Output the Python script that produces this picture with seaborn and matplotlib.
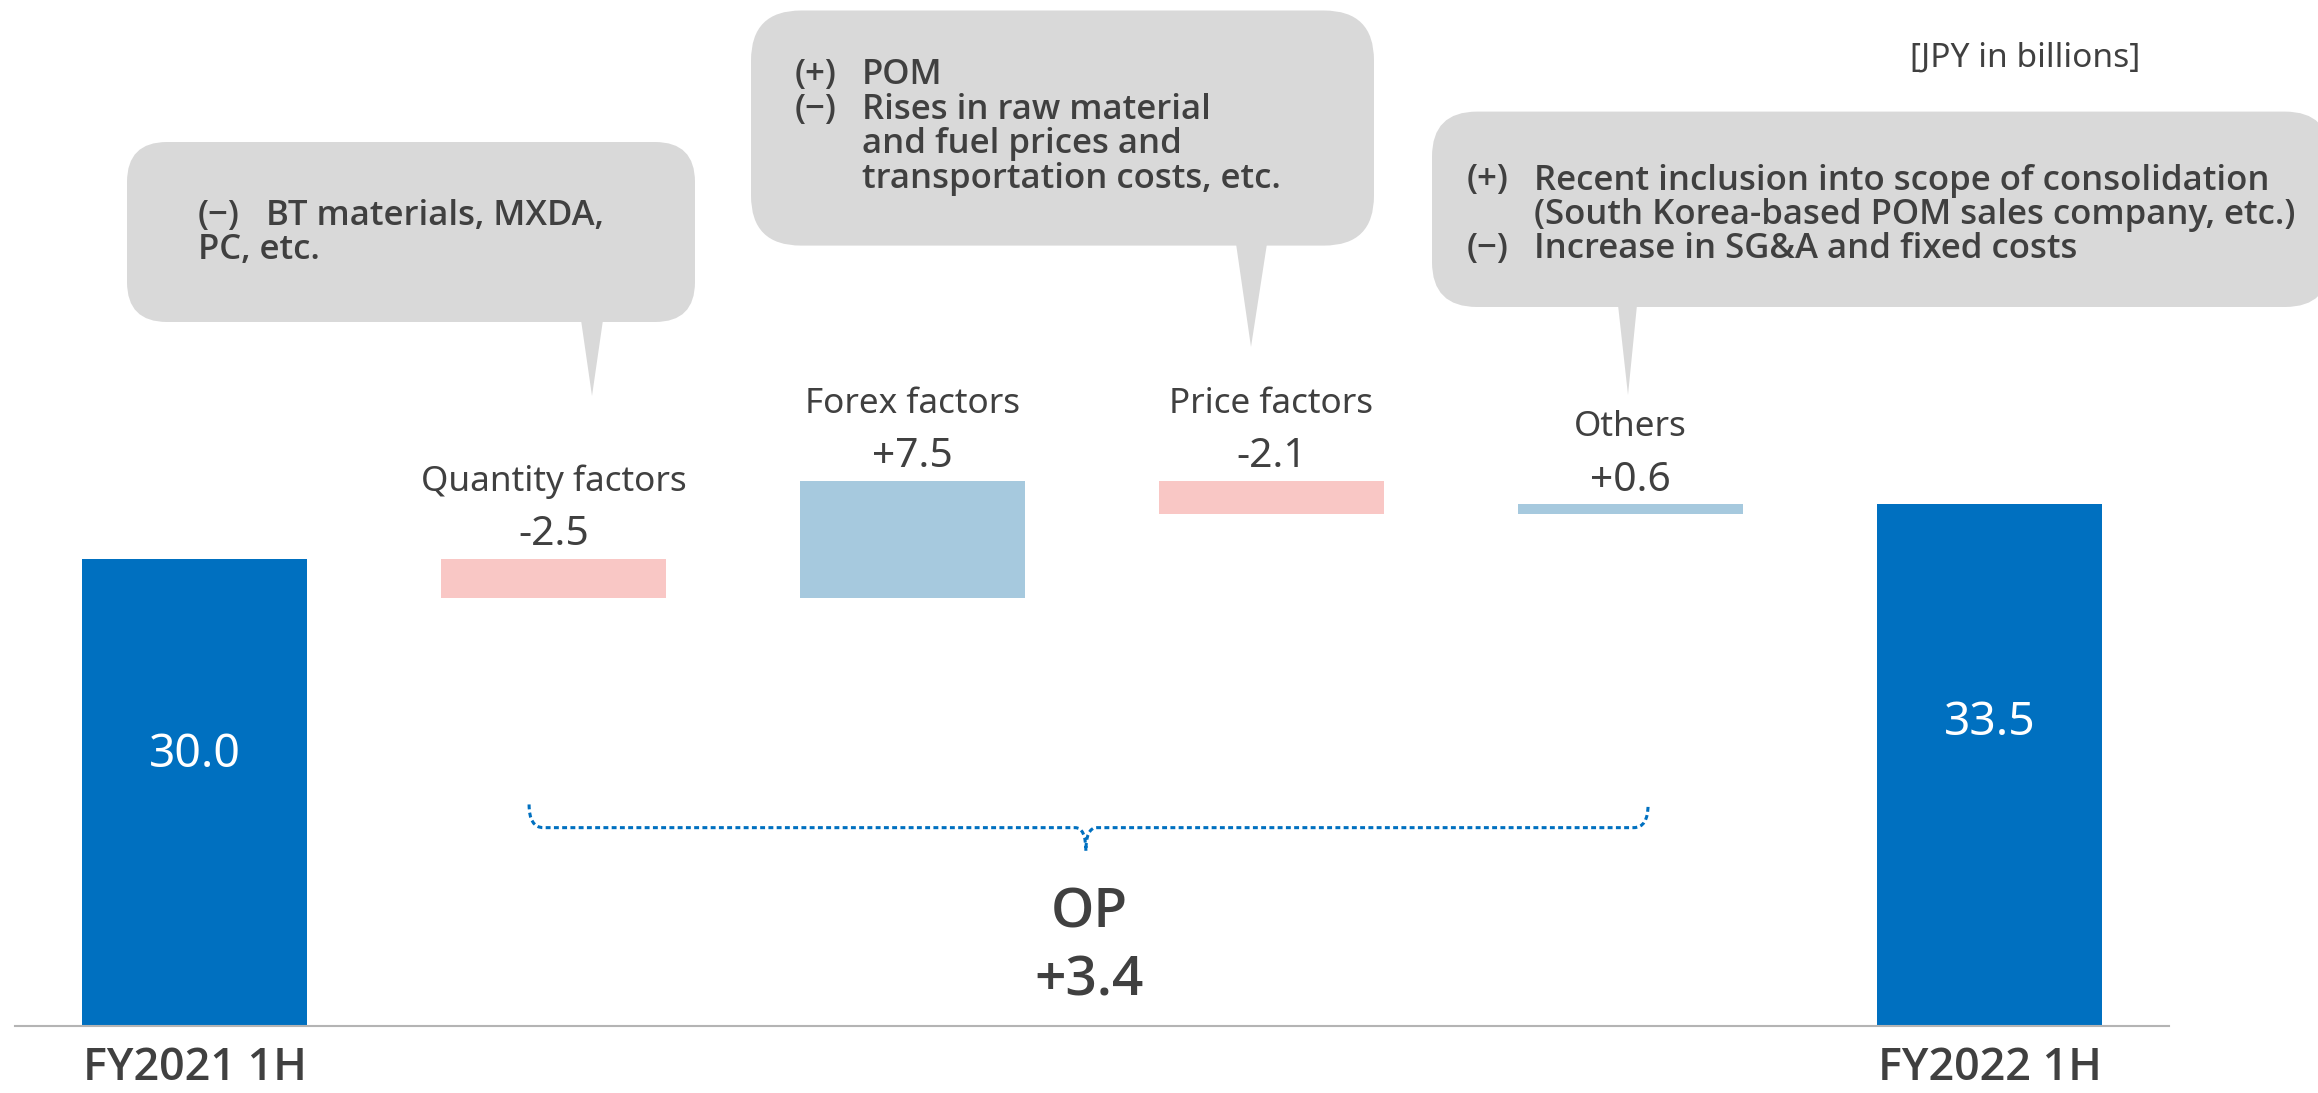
import numpy as np
import pandas as pd
import matplotlib
matplotlib.use("Agg")
import matplotlib.pyplot as plt
import matplotlib.font_manager as fm
import seaborn as sns
from matplotlib.patches import FancyBboxPatch, Polygon, PathPatch
from matplotlib.path import Path
from matplotlib.transforms import Affine2D

# ---------------- data ----------------
categories = ["FY2021 1H", "Quantity factors", "Forex factors", "Price factors", "Others", "FY2022 1H"]
start_value = 30.0
end_value = 33.5
changes = [-2.5, 7.5, -2.1, 0.6]
change_labels = ["-2.5", "+7.5", "-2.1", "+0.6"]
total_labels = ["30.0", "33.5"]
op_title = "OP"
op_change = "+3.4"
unit_label = "[JPY in billions]"

bubble1_lines = [("(−)", "BT materials, MXDA,"), ("", "PC, etc.")]
bubble2_lines = [("(+)", "POM"), ("(−)", "Rises in raw material"),
                 ("", "and fuel prices and"), ("", "transportation costs, etc.")]
bubble3_lines = [("(+)", "Recent inclusion into scope of consolidation"),
                 ("", "(South Korea-based POM sales company, etc.)"),
                 ("(−)", "Increase in SG&A and fixed costs")]

# ---------------- styling ----------------
BLUE = "#0070c0"
POS = "#a6c9de"
NEG = "#f9c7c5"
BUBBLE = "#d9d9d9"
TXT = "#404040"

sns.set_style("white")
plt.rcParams["font.family"] = ["Noto Sans", "DejaVu Sans"]


def _w(v):
    if isinstance(v, str):
        return fm.weight_dict.get(v, 400)
    return int(v)


def pick_font(target_weight):
    names = ["Noto Sans", "Open Sans", "Lato", "Inter", "Roboto", "DejaVu Sans"]
    for nm in names:
        cands = [f for f in fm.fontManager.ttflist
                 if f.name == nm and f.style == "normal" and 480 <= _w(f.weight) <= 720]
        if cands:
            best = min(cands, key=lambda f: abs(_w(f.weight) - target_weight))
            return fm.FontProperties(fname=best.fname)
    return fm.FontProperties(family="DejaVu Sans", weight="bold")


FP_SEMI = pick_font(600)
FP_MED = pick_font(500)
FP_REG = fm.FontProperties(family=["Noto Sans", "DejaVu Sans"])

W, H = 2318, 1093
fig = plt.figure(figsize=(W / 100, H / 100), dpi=100)
ax = fig.add_axes([15 / W, 67 / H, (2169 - 15) / W, 1026 / H])
renderer = fig.canvas.get_renderer()
PX = Affine2D().scale(1 / W, -1 / H).translate(0, 1) + fig.transFigure


def fit(s, target, fp=FP_REG):
    p = fp.copy()
    p.set_size(20)
    t = fig.text(0, 0, s, fontproperties=p)
    w = t.get_window_extent(renderer=renderer).width
    t.remove()
    return 20 * target / w


def fprop(fp, size):
    p = fp.copy()
    p.set_size(size)
    return p


# waterfall geometry from data
levels = start_value + np.cumsum(changes)
prev = np.concatenate([[start_value], levels[:-1]])
bottoms = np.concatenate([[0.0], np.minimum(prev, levels), [0.0]])
tops = np.concatenate([[start_value], np.maximum(prev, levels), [end_value]])
colors = [BLUE] + [POS if c > 0 else NEG for c in changes] + [BLUE]

df = pd.DataFrame({"category": categories, "top": tops})
sns.barplot(data=df, x="category", y="top", hue="category", palette=colors,
            width=0.625, saturation=1, legend=False, ax=ax, zorder=2)
for p, b, t in zip(ax.patches, bottoms, tops):
    p.set_y(b)
    p.set_height(t - b)
    p.set_edgecolor("none")

ax.set_xlim(-0.5, 5.5)
ax.set_ylim(0, 65.9)
ax.set_xlabel("")
ax.set_ylabel("")
ax.set_yticks([])
for s in ["top", "left", "right"]:
    ax.spines[s].set_visible(False)
ax.spines["bottom"].set_color("#b4b4b4")
ax.spines["bottom"].set_linewidth(1.5)

# x tick labels (only endpoints)
fy_prop = fprop(FP_MED, fit(categories[0], 224, FP_MED))
ax.set_xticks([0, 5], labels=[categories[0], categories[-1]])
ax.tick_params(axis="x", length=0, pad=39, labelcolor=TXT)
for lab in ax.get_xticklabels():
    lab.set_va("baseline")
    lab.set_fontproperties(fy_prop)

# totals inside bars
tot_size = fit("30.0", 92)
for i, (v, lab) in zip([0, 5], zip([start_value, end_value], total_labels)):
    ax.text(i, 0.58 * v, lab, ha="center", va="center", color="white", fontsize=tot_size)

# change labels
name_size = fit("Quantity factors", 266)
val_size = fit("+7.5", 81)
for k, (c, lab) in enumerate(zip(changes, change_labels)):
    i = k + 1
    top = tops[i]
    ax.annotate(lab, xy=(i, top), xytext=(0, 10), textcoords="offset points",
                ha="center", va="baseline", fontsize=val_size, color=TXT)
    ax.annotate(categories[i], xy=(i, top), xytext=(0, 49), textcoords="offset points",
                ha="center", va="baseline", fontsize=name_size, color=TXT)

# brace (dotted)
bx_l, bx_r, bx_m = 0.932, 4.049, 2.483
by_top, by_line, by_tip = 14.23, 12.74, 11.24
dx_c, dx_t = 0.04, 0.03
verts = [(bx_l, by_top), (bx_l, by_line), (bx_l + dx_c, by_line),
         (bx_m - dx_t, by_line),
         (bx_m, by_line), (bx_m, by_tip),
         (bx_m, by_line), (bx_m + dx_t, by_line),
         (bx_r - dx_c, by_line),
         (bx_r, by_line), (bx_r, by_top)]
codes = [Path.MOVETO, Path.CURVE3, Path.CURVE3, Path.LINETO,
         Path.CURVE3, Path.CURVE3, Path.CURVE3, Path.CURVE3,
         Path.LINETO, Path.CURVE3, Path.CURVE3]
ax.add_patch(PathPatch(Path(verts, codes), fill=False, edgecolor=BLUE,
                       linewidth=2.2, linestyle=(0, (1.6, 1.1)), capstyle="butt", zorder=3))

op_prop = fprop(FP_MED, fit(op_change, 109, FP_MED))
fig.text(1089, 927, op_title, transform=PX, ha="center", va="baseline",
         fontproperties=op_prop, color=TXT)
fig.text(1089, 995, op_change, transform=PX, ha="center", va="baseline",
         fontproperties=op_prop, color=TXT)

fig.text(2025, 66.7, unit_label, transform=PX, ha="center", va="baseline",
         fontsize=fit(unit_label, 229), color=TXT)

# callout bubbles
bub_prop = fprop(FP_SEMI, fit(bubble3_lines[0][1], 735, FP_SEMI))


def bubble(x0, x1, y0, y1, r, tail, lines, tx, indent, base0, dy, indent_all):
    fig.patches.append(FancyBboxPatch((x0, y0), x1 - x0, y1 - y0,
                                      boxstyle=f"round,pad=0,rounding_size={r}",
                                      transform=PX, fc=BUBBLE, ec="none", figure=fig))
    (ta, tb, ty, tipx, tipy) = tail
    fig.patches.append(Polygon([(ta, ty - 2), (tb, ty - 2), (tipx, tipy)], closed=True,
                               transform=PX, fc=BUBBLE, ec="none", figure=fig))
    for j, (mk, body) in enumerate(lines):
        yb = base0 + j * dy
        if mk:
            fig.text(tx, yb, mk, transform=PX, va="baseline", ha="left",
                     fontproperties=bub_prop, color=TXT)
        bx = tx + indent if (mk or indent_all) else tx
        fig.text(bx, yb, body, transform=PX, va="baseline", ha="left",
                 fontproperties=bub_prop, color=TXT)


bubble(127, 695, 142, 322, 40, (581, 603, 322, 592, 396), bubble1_lines, 198, 68, 224.6, 34.4, False)
bubble(751, 1374, 10.5, 245.6, 50, (1236, 1267, 245.6, 1251, 347), bubble2_lines, 795, 67, 84.2, 34.5, True)
bubble(1432, 2330, 111.6, 307, 45, (1618, 1637, 307, 1628, 395), bubble3_lines, 1467, 66.5, 189.5, 34.3, True)

fig.savefig("out.png", dpi=100)
